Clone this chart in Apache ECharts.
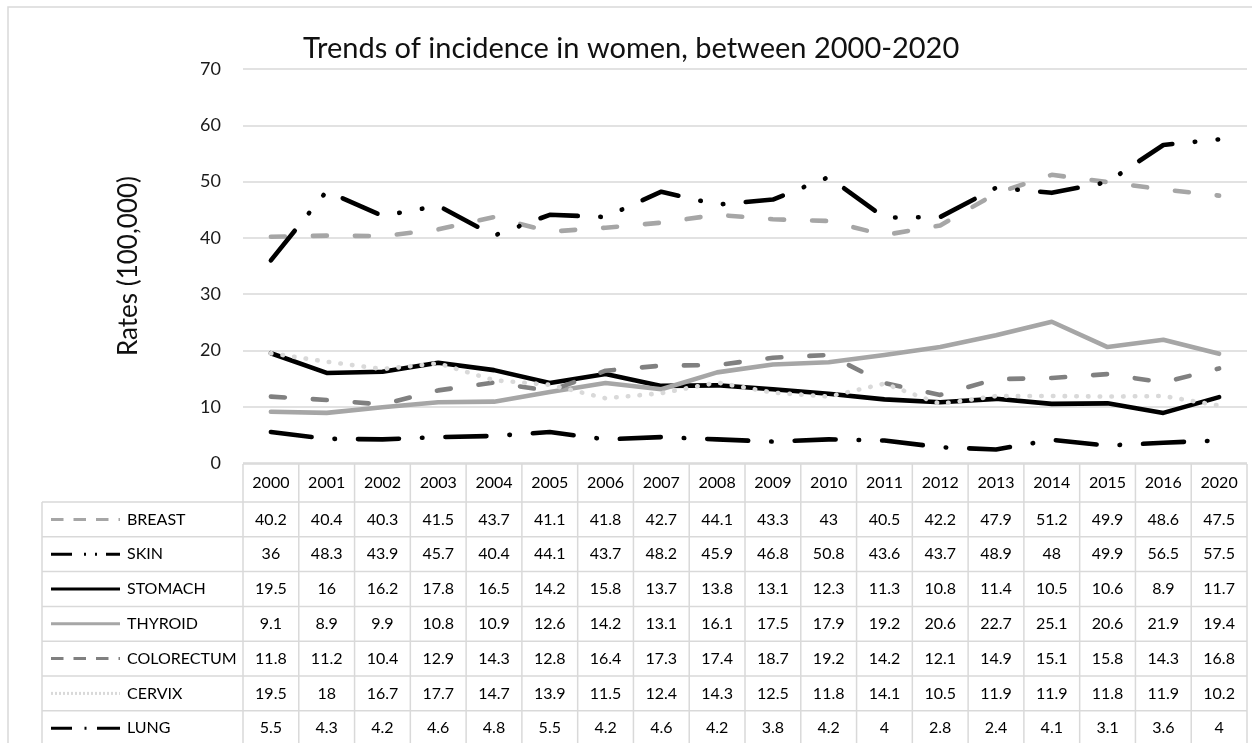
<!DOCTYPE html>
<html>
<head>
<meta charset="utf-8">
<script src="https://cdn.jsdelivr.net/npm/echarts@6/dist/echarts.min.js"></script>
<style>
  html, body { margin: 0; padding: 0; background: #fff; }
  #chart { width: 1252px; height: 743px; }
</style>
</head>
<body>
<div id="chart"></div>
<script>
// Incidence rates per 100,000 women, by cancer site
const years = ['2000','2001','2002','2003','2004','2005','2006','2007','2008','2009','2010','2011','2012','2013','2014','2015','2016','2020'];
const breast     = [40.2,40.4,40.3,41.5,43.7,41.1,41.8,42.7,44.1,43.3,43,40.5,42.2,47.9,51.2,49.9,48.6,47.5];
const skin       = [36,48.3,43.9,45.7,40.4,44.1,43.7,48.2,45.9,46.8,50.8,43.6,43.7,48.9,48,49.9,56.5,57.5];
const stomach    = [19.5,16,16.2,17.8,16.5,14.2,15.8,13.7,13.8,13.1,12.3,11.3,10.8,11.4,10.5,10.6,8.9,11.7];
const thyroid    = [9.1,8.9,9.9,10.8,10.9,12.6,14.2,13.1,16.1,17.5,17.9,19.2,20.6,22.7,25.1,20.6,21.9,19.4];
const colorectum = [11.8,11.2,10.4,12.9,14.3,12.8,16.4,17.3,17.4,18.7,19.2,14.2,12.1,14.9,15.1,15.8,14.3,16.8];
const cervix     = [19.5,18,16.7,17.7,14.7,13.9,11.5,12.4,14.3,12.5,11.8,14.1,10.5,11.9,11.9,11.8,11.9,10.2];
const lung       = [5.5,4.3,4.2,4.6,4.8,5.5,4.2,4.6,4.2,3.8,4.2,4,2.8,2.4,4.1,3.1,3.6,4];

const siteNames = ['BREAST','SKIN','STOMACH','THYROID','COLORECTUM','CERVIX','LUNG'];
const siteValues = [breast, skin, stomach, thyroid, colorectum, cervix, lung];

const yMin = 0, yMax = 70, yStep = 10;

// Line appearance per site: plot stroke and the small key drawn in the table
const looks = {
  BREAST:     { color: '#a6a6a6', dash: [14, 28],                         key: [12.5, 10] },
  SKIN:       { color: '#000000', dash: [38, 22.5, 0.5, 22.5, 0.5, 22.5], key: [21, 12, 2, 9, 2, 9] },
  STOMACH:    { color: '#000000', dash: 'solid',                          key: null },
  THYROID:    { color: '#a6a6a6', dash: 'solid',                          key: null },
  COLORECTUM: { color: '#808080', dash: [14, 28],                         key: [12.5, 10] },
  CERVIX:     { color: '#d9d9d9', dash: [0.5, 11.2],                      key: [2, 2] },
  LUNG:       { color: '#000000', dash: [41, 23, 0.5, 23],                key: [21, 12.5, 2, 10.5, 40] }
};

const FONT = 'Lato, "Open Sans", sans-serif';
const GRID_LINE = '#d9d9d9';

const chart = echarts.init(document.getElementById('chart'), null, { renderer: 'canvas' });

const option = {
  animation: false,
  backgroundColor: '#ffffff',
  title: {
    text: 'Trends of incidence in women, between 2000-2020',
    left: 298,
    top: 29,
    textStyle: { fontFamily: FONT, fontSize: 29, fontWeight: 'normal', color: '#111' }
  },
  grid: { left: 243, right: 5, top: 69, bottom: 280, containLabel: false },
  xAxis: {
    type: 'category',
    data: years,
    boundaryGap: true,
    axisLine: { show: false },
    axisTick: { show: false },
    axisLabel: {
      margin: 20,
      verticalAlign: 'middle',
      fontFamily: FONT,
      fontSize: 16,
      color: '#000'
    },
    splitLine: { show: false }
  },
  yAxis: {
    type: 'value',
    min: yMin,
    max: yMax,
    interval: yStep,
    name: 'Rates (100,000)',
    nameLocation: 'middle',
    nameRotate: 90,
    nameGap: 101,
    nameTextStyle: { fontFamily: FONT, fontSize: 26, color: '#111' },
    axisLine: { show: false },
    axisTick: { show: false },
    axisLabel: { margin: 22, fontFamily: FONT, fontSize: 18, color: '#1a1a1a' },
    splitLine: { lineStyle: { color: GRID_LINE, width: 1.5 } }
  },
  series: siteNames.map((name, i) => ({
    name: name,
    type: 'line',
    data: siteValues[i],
    symbol: 'none',
    smooth: false,
    z: 2 + i,
    lineStyle: {
      color: looks[name].color,
      width: 4.6,
      type: looks[name].dash,
      cap: 'round',
      join: 'round'
    }
  }))
};

chart.setOption(option);

// Data table under the plot, aligned to the category axis
function buildTable() {
  const xs = years.map(y => chart.convertToPixel({ xAxisIndex: 0 }, y));
  const step = xs[1] - xs[0];
  const edges = [xs[0] - step / 2].concat(xs.map(x => x + step / 2));
  const tableLeft = edges[0];
  const tableRight = edges[edges.length - 1];
  const top = chart.convertToPixel({ yAxisIndex: 0 }, yMin) + 1;
  const headerH = 38;
  const rowH = 34.8;
  const labelLeft = 42;
  const bottom = top + headerH + rowH * siteNames.length;
  const keyX1 = 51, keyX2 = 120, labelX = 127;

  const lineStyle = { stroke: GRID_LINE, lineWidth: 1.5 };
  const els = [];

  // outer chart frame
  els.push({
    type: 'rect', silent: true, z: 0,
    shape: { x: 8, y: 7, width: 1300, height: 800 },
    style: { fill: null, stroke: GRID_LINE, lineWidth: 1.5 }
  });

  // header top rule
  els.push({ type: 'line', silent: true, shape: { x1: tableLeft, y1: top, x2: tableRight, y2: top }, style: lineStyle });
  // row rules
  for (let r = 0; r <= siteNames.length; r++) {
    const y = top + headerH + r * rowH;
    els.push({ type: 'line', silent: true, shape: { x1: labelLeft, y1: y, x2: tableRight, y2: y }, style: lineStyle });
  }
  // column rules
  edges.forEach(x => {
    els.push({ type: 'line', silent: true, shape: { x1: x, y1: top, x2: x, y2: bottom }, style: lineStyle });
  });
  els.push({ type: 'line', silent: true, shape: { x1: labelLeft, y1: top + headerH, x2: labelLeft, y2: bottom }, style: lineStyle });

  siteNames.forEach((name, r) => {
    const cy = top + headerH + r * rowH + rowH / 2;
    const lk = looks[name];
    els.push({
      type: 'line', silent: true,
      shape: { x1: keyX1, y1: cy, x2: keyX2, y2: cy },
      style: { stroke: lk.color, lineWidth: 3, lineDash: lk.key, lineCap: 'butt' }
    });
    els.push({
      type: 'text', silent: true,
      x: labelX, y: cy,
      style: { text: name, fill: '#000', font: '16px ' + FONT, align: 'left', verticalAlign: 'middle' }
    });
    siteValues[r].forEach((v, c) => {
      els.push({
        type: 'text', silent: true,
        x: xs[c], y: cy,
        style: { text: String(v), fill: '#000', font: '16px ' + FONT, align: 'center', verticalAlign: 'middle' }
      });
    });
  });

  chart.setOption({ graphic: { elements: els } });
}

buildTable();
</script>
</body>
</html>
